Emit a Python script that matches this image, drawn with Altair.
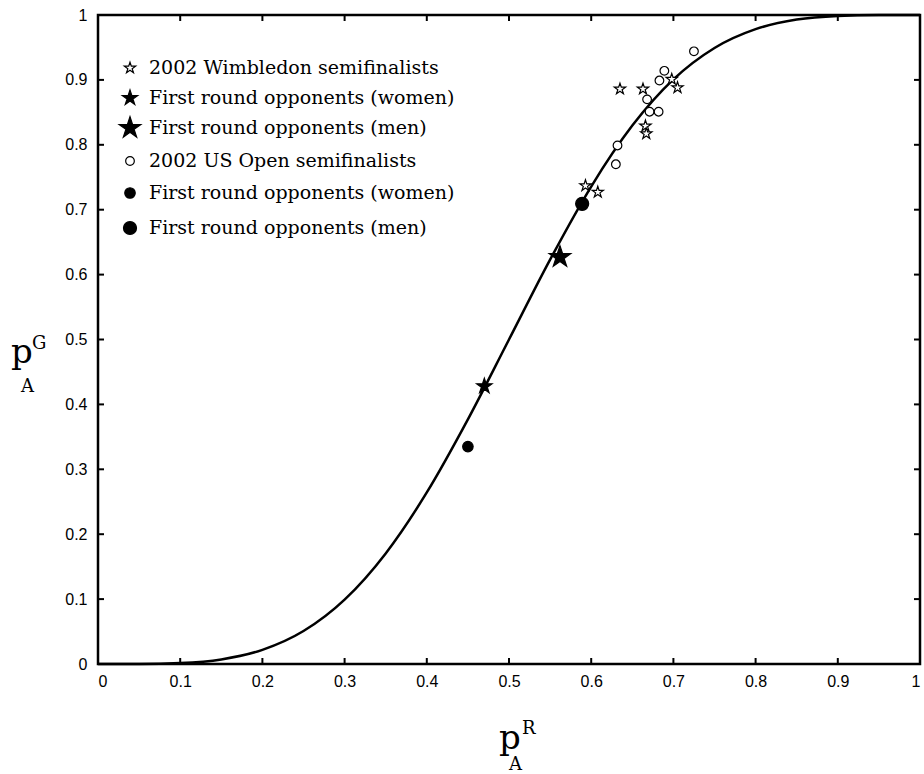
import altair as alt
import pandas as pd

# ---- data ----
curve_x = [0.0, 0.05, 0.1, 0.15, 0.2, 0.25, 0.3, 0.35, 0.4, 0.45, 0.5,
           0.55, 0.6, 0.65, 0.7, 0.75, 0.8, 0.85, 0.9, 0.95, 1.0]
curve_y = [0.0, 0.0001, 0.0015, 0.0071, 0.0218, 0.0508, 0.0992, 0.1704, 0.2643, 0.3769, 0.5,
           0.6231, 0.7357, 0.8296, 0.9008, 0.9492, 0.9782, 0.9929, 0.9985, 0.9999, 1.0]

wim_semi_x = [0.635, 0.663, 0.698, 0.705, 0.666, 0.667, 0.593, 0.608]
wim_semi_y = [0.886, 0.886, 0.901, 0.888, 0.829, 0.817, 0.737, 0.727]
wim_women_x = [0.470]
wim_women_y = [0.428]
wim_men_x = [0.562]
wim_men_y = [0.627]
us_semi_x = [0.725, 0.689, 0.683, 0.668, 0.671, 0.682, 0.632, 0.630]
us_semi_y = [0.944, 0.914, 0.899, 0.870, 0.851, 0.851, 0.799, 0.770]
us_women_x = [0.450]
us_women_y = [0.335]
us_men_x = [0.589]
us_men_y = [0.709]

series_labels = ["2002 Wimbledon semifinalists",
                 "First round opponents (women)",
                 "First round opponents (men)",
                 "2002 US Open semifinalists",
                 "First round opponents (women)",
                 "First round opponents (men)"]
tick_vals = [0, 0.1, 0.2, 0.3, 0.4, 0.5, 0.6, 0.7, 0.8, 0.9, 1]

# ---- styles per series ----
STAR = ("M0,-1L0.2245,-0.309L0.951,-0.309L0.363,0.118L0.588,0.809L0,0.382"
        "L-0.588,0.809L-0.363,0.118L-0.951,-0.309L-0.2245,-0.309Z")
shapes = [STAR, STAR, STAR, "circle", "circle", "circle"]
fills = ["white", "black", "black", "white", "black", "black"]
sizes = [140, 260, 520, 75, 110, 170]

W, H = 822, 649

curve_df = pd.DataFrame({"x": curve_x, "y": curve_y})
ticks_df = pd.DataFrame({"t": tick_vals})
dummy = pd.DataFrame({"d": [0]})

xscale = alt.Scale(domain=[0, 1], nice=False, zero=False)
yscale = alt.Scale(domain=[0, 1], nice=False, zero=False)
xaxis = alt.Axis(orient="bottom", values=tick_vals, format="~g", domain=False, ticks=False, tickSize=0,
                 grid=False, labelFont="Liberation Sans", labelFontSize=16, labelColor="black",
                 labelPadding=9, title=None)
yaxis = alt.Axis(orient="left", values=tick_vals, format="~g", domain=False, ticks=False, tickSize=0,
                 grid=False, labelFont="Liberation Sans", labelFontSize=16, labelColor="black",
                 labelPadding=11, title=None)


def X(f):
    return alt.X(f, scale=xscale, axis=xaxis)


def Y(f):
    return alt.Y(f, scale=yscale, axis=yaxis)


layers = []
layers.append(alt.Chart(curve_df).mark_line(color="black", strokeWidth=2.5, interpolate="monotone").encode(
    x=X("x:Q"), y=Y("y:Q")))

# inward ticks on all four sides
layers.append(alt.Chart(ticks_df).mark_rule(color="black", strokeWidth=2).encode(
    x=X("t:Q"), y=alt.value(H), y2=alt.value(H - 6)))
layers.append(alt.Chart(ticks_df).mark_rule(color="black", strokeWidth=2).encode(
    x=X("t:Q"), y=alt.value(0), y2=alt.value(6)))
layers.append(alt.Chart(ticks_df).mark_rule(color="black", strokeWidth=2).encode(
    y=Y("t:Q"), x=alt.value(0), x2=alt.value(6)))
layers.append(alt.Chart(ticks_df).mark_rule(color="black", strokeWidth=2).encode(
    y=Y("t:Q"), x=alt.value(W), x2=alt.value(W - 6)))

# data points, one layer per series
for xs, ys, shp, fl, sz in zip([wim_semi_x, wim_women_x, wim_men_x, us_semi_x, us_women_x, us_men_x],
                               [wim_semi_y, wim_women_y, wim_men_y, us_semi_y, us_women_y, us_men_y],
                               shapes, fills, sizes):
    df = pd.DataFrame({"x": xs, "y": ys})
    layers.append(alt.Chart(df).mark_point(shape=shp, fill=fl, filled=True, stroke="black",
                                           strokeWidth=1.2, size=sz, opacity=1).encode(
        x=X("x:Q"), y=Y("y:Q")))

# legend (drawn inside the plot, top-left)
legend_rows_y = [53, 83, 113, 146, 178, 213]
for lab, shp, fl, sz, ry in zip(series_labels, shapes, fills, sizes, legend_rows_y):
    layers.append(alt.Chart(dummy).mark_point(shape=shp, fill=fl, filled=True, stroke="black",
                                              strokeWidth=1.2, size=sz, opacity=1).encode(
        x=alt.value(32), y=alt.value(ry)))
    layers.append(alt.Chart(dummy).mark_text(align="left", baseline="middle", font="DejaVu Serif",
                                             fontSize=19, color="black").encode(
        x=alt.value(51), y=alt.value(ry), text=alt.value(lab)))


def txt(s, px, py, size):
    return alt.Chart(dummy).mark_text(align="left", baseline="alphabetic", font="DejaVu Serif",
                                      fontSize=size, color="black").encode(
        x=alt.value(px), y=alt.value(py), text=alt.value(s))


layers += [
    txt("p", 401, 734, 34), txt("R", 424, 719, 18), txt("A", 411, 755, 18),
    txt("p", -87, 348, 34), txt("G", -66, 334, 18), txt("A", -77, 377, 18),
]

chart = alt.layer(*layers).properties(
    width=W, height=H,
    autosize=alt.AutoSizeParams(type="none"),
    padding={"left": 98, "top": 15, "right": 4, "bottom": 110},
).configure_view(stroke="black", strokeWidth=2.5)

chart.save("out.html", embed_options={"renderer": "svg", "actions": False})
